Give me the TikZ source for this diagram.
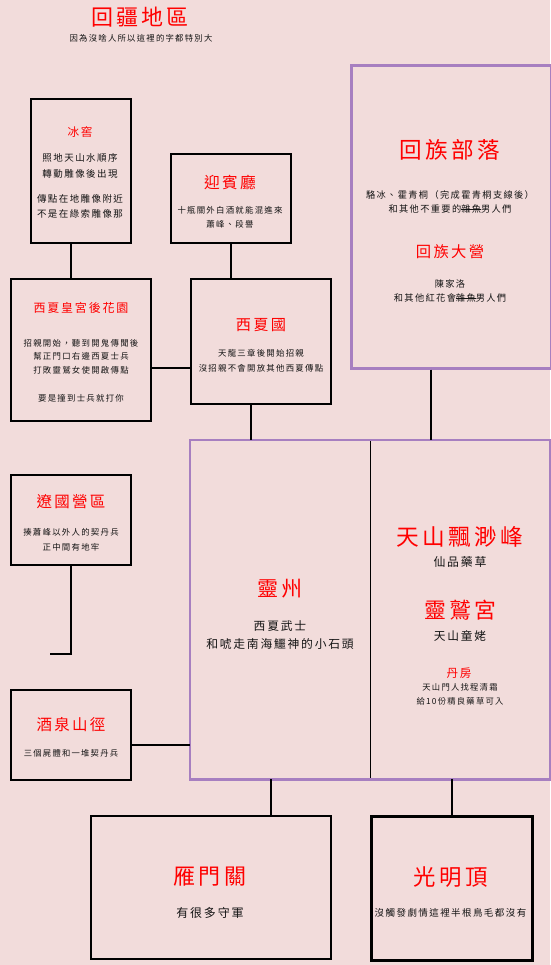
\documentclass[tikz,border=0pt]{standalone}
\usepackage{fontspec}
\setmainfont[LetterSpace=15]{Noto Sans CJK TC}
\usetikzlibrary{positioning}
\definecolor{bgpink}{HTML}{F2DCDB}
\definecolor{zonepurple}{HTML}{A77FC0}
\definecolor{inkgray}{HTML}{141414}
\newcommand\strikeout[1]{\setbox0\hbox{#1}\rlap{\rule[0.32em]{\wd0}{0.7pt}}\box0}

\begin{document}
\begin{tikzpicture}[x=1pt,y=-1pt,
	box/.style={draw=black,line width=1.8pt,anchor=north west,inner sep=0pt},
	zone/.style={draw=zonepurple,line width=2.6pt},
	half/.style={anchor=north west,inner sep=0pt,minimum width=180,minimum height=339},
	wire/.style={draw=black,line width=1.8pt},
	ttl/.style={text=red,font=\fontsize{#1}{#1}\selectfont},
	note/.style={text=inkgray,align=center,font=\fontsize{#1}{14.5}\selectfont},
	note/.default=8.4]
		\fill[bgpink] (0,0) rectangle (550,965);
		\useasboundingbox (0,0) rectangle (550,965);
		\node[ttl=22] (region) at (140,17) {回疆地區};
		\node[note=8.35] (regionnote) at (141,38) {因為沒啥人所以這裡的字都特別大};
		
		\node[box,minimum width=100,minimum height=144] (bingjiao) at (30,98) {};
		\node[ttl=11.6] (bingjiao-t) at (80,132) {冰窖};
		\node[note,font=\fontsize{9.5}{15.5}\selectfont] (bingjiao-b) at (80,186)
		{照地天山水順序\\轉動雕像後出現\\[9.5pt]傳點在地雕像附近\\不是在綠索雕像那};
		
		\node[box,minimum width=120,minimum height=89] (yingbin) at (170,153) {};
		\node[ttl=15.7] (yingbin-t) at (230,182) {迎賓廳};
		\node[note] (yingbin-b) at (230,217.5) {十瓶關外白酒就能混進來\\蕭峰、段譽};
		
		\node[box,minimum width=140,minimum height=142] (huayuan) at (10,278) {};
		\node[ttl=12] (huayuan-t) at (81,308) {西夏皇宮後花園};
		\node[note,font=\fontsize{8.4}{13.8}\selectfont] (huayuan-b) at (81,370.5)
		{招親開始，聽到開鬼傳聞後\\幫正門口右邊西夏士兵\\打敗靈鷲女使開啟傳點\\[13.8pt]要是撞到士兵就打你};
		
		\node[box,minimum width=140,minimum height=125] (xixia) at (190,278) {};
		\node[ttl=15.2] (xixia-t) at (261,325) {西夏國};
		\node[note] (xixia-b) at (261,361) {天龍三章後開始招親\\沒招親不會開放其他西夏傳點};
		
		\node[box,draw=zonepurple,line width=2.6pt,minimum width=200,minimum height=303] (huizu) at (350,64) {};
		\node[ttl=22.6] (huizu-t) at (450,150) {回族部落};
		\node[note=9.2] (huizu-b) at (450,202) {駱冰、霍青桐（完成霍青桐支線後）\\和其他不重要的\strikeout{雜魚}男人們};
		\node[ttl=15.3] (daying-t) at (450,252) {回族大營};
		\node[note=9.2] (daying-b) at (450,291) {陳家洛\\和其他紅花會\strikeout{雜魚}男人們};
		
		\node[half] (lingzhou) at (190,440) {};
		\node[half] (tianshan) at (370,440) {};
		\draw[wire] (lingzhou.north east) -- (lingzhou.south east);
		\draw[zone] (lingzhou.north west) rectangle (tianshan.south east);
		\node[ttl=21] (lingzhou-t) at (280,589) {靈州};
		\node[note,font=\fontsize{11.8}{18}\selectfont] (lingzhou-b) at (280,635) {西夏武士\\和唬走南海鱷神的小石頭};
		\node[ttl=22.7] (tianshan-t) at (460,537) {天山飄渺峰};
		\node[note=11.9] (tianshan-b) at (460,562) {仙品藥草};
		\node[ttl=21.8] (lingjiu-t) at (460,610) {靈鷲宮};
		\node[note=11.7] (lingjiu-b) at (460,636) {天山童姥};
		\node[ttl=11.6] (danfang-t) at (459,673) {丹房};
		\node[note,font=\fontsize{8.3}{14}\selectfont] (danfang-b) at (460,694) {天山門人找程清霜\\給10份精良藥草可入};
		
		\node[box,minimum width=120,minimum height=90] (liaoying) at (10,474) {};
		\node[ttl=15.5] (liaoying-t) at (71,502) {遼國營區};
		\node[note] (liaoying-b) at (71,540) {揍蕭峰以外人的契丹兵\\正中間有地牢};
		\coordinate (liaoend) at (50,654);
		
		\node[box,minimum width=120,minimum height=90] (jiuquan) at (10,689) {};
		\node[ttl=15.5] (jiuquan-t) at (71,725) {酒泉山徑};
		\node[note=8.3] (jiuquan-b) at (71,753) {三個屍體和一堆契丹兵};
		
		\node[box,minimum width=240,minimum height=143] (yanmen) at (90,815) {};
		\node[ttl=22] (yanmen-t) at (210,877) {雁門關};
		\node[note=12] (yanmen-b) at (210,913) {有很多守軍};
		
		\node[box,line width=2.6pt,minimum width=161,minimum height=144] (guangming) at (370,815) {};
		\node[ttl=22.4] (guangming-t) at (450.5,877) {光明頂};
		\node[note=9.5] (guangming-b) at (450.5,913) {沒觸發劇情這裡半根鳥毛都沒有};
		
		\coordinate (bj) at ([xshift=-10pt]bingjiao.south);
		\coordinate (hy) at ([yshift=-18pt]huayuan.east);
		\coordinate (xx) at ([xshift=-10pt]xixia.south);
		\coordinate (hz) at ([xshift=-20pt]huizu.south);
		\coordinate (jq) at ([yshift=-10pt]jiuquan.east);
		\coordinate (lz) at ([xshift=-9pt]lingzhou.south);
		\draw[wire] (bj) -- (bj |- huayuan.north);
		\draw[wire] (yingbin.south) -- (yingbin.south |- xixia.north);
		\draw[wire] (hy) -- (hy -| xixia.west);
		\draw[wire] (xx) -- (xx |- lingzhou.north);
		\draw[wire] (hz) -- (hz |- tianshan.north);
		\draw[wire] (liaoying.south) |- (liaoend);
		\draw[wire] (jq) -- (jq -| lingzhou.west);
		\draw[wire] (lz) -- (lz |- yanmen.north);
		\draw[wire] (guangming.north) -- (guangming.north |- tianshan.south);
	\end{tikzpicture}
\end{document}
